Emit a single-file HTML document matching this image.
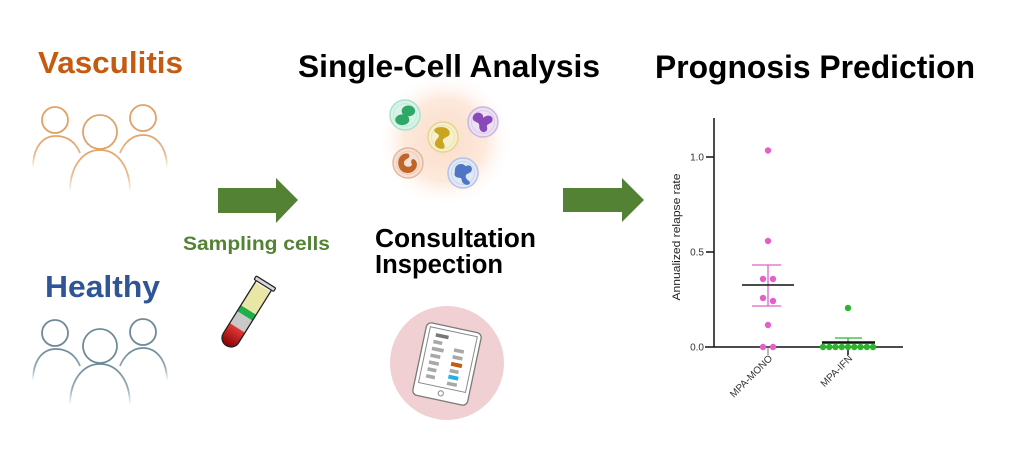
<!DOCTYPE html>
<html>
<head>
<meta charset="utf-8">
<style>
html,body{margin:0;padding:0;background:#fff;}
body{width:1011px;height:460px;overflow:hidden;}
svg{display:block;}
text{font-family:"Liberation Sans",Arial,sans-serif;}
</style>
</head>
<body>
<svg width="1011" height="460" viewBox="0 0 1011 460" xmlns="http://www.w3.org/2000/svg">
<defs>
  <linearGradient id="fadeO" x1="0" y1="0" x2="0" y2="1" gradientUnits="objectBoundingBox">
    <stop offset="0" stop-color="#e2a36a"/>
    <stop offset="0.6" stop-color="#e8b88c"/>
    <stop offset="1" stop-color="#ffffff"/>
  </linearGradient>
  <linearGradient id="fadeB" x1="0" y1="0" x2="0" y2="1" gradientUnits="objectBoundingBox">
    <stop offset="0" stop-color="#6f8b99"/>
    <stop offset="0.6" stop-color="#95aab5"/>
    <stop offset="1" stop-color="#ffffff"/>
  </linearGradient>
  <radialGradient id="glow" cx="445" cy="140" r="68" gradientUnits="userSpaceOnUse">
    <stop offset="0" stop-color="#fbdcc8"/>
    <stop offset="0.6" stop-color="#fde9dc"/>
    <stop offset="1" stop-color="#ffffff" stop-opacity="0"/>
  </radialGradient>
  <linearGradient id="red" x1="0" y1="0" x2="0" y2="1">
    <stop offset="0" stop-color="#e23a3a"/>
    <stop offset="1" stop-color="#8a0000"/>
  </linearGradient>
</defs>

<!-- Titles -->
<text x="38" y="73" font-size="31" font-weight="bold" fill="#c55a11" textLength="145" lengthAdjust="spacingAndGlyphs">Vasculitis</text>
<text x="45" y="297" font-size="31" font-weight="bold" fill="#2f5597" textLength="115" lengthAdjust="spacingAndGlyphs">Healthy</text>
<text x="298" y="77" font-size="31.5" font-weight="bold" fill="#000" textLength="302" lengthAdjust="spacingAndGlyphs">Single-Cell Analysis</text>
<text x="655" y="78" font-size="32" font-weight="bold" fill="#000" textLength="320" lengthAdjust="spacingAndGlyphs">Prognosis Prediction</text>
<text x="375" y="247" font-size="25.5" font-weight="bold" fill="#000" textLength="161" lengthAdjust="spacingAndGlyphs">Consultation</text>
<text x="375" y="273" font-size="25.5" font-weight="bold" fill="#000" textLength="128" lengthAdjust="spacingAndGlyphs">Inspection</text>
<text x="183" y="250" font-size="19.5" font-weight="bold" fill="#548235" textLength="147" lengthAdjust="spacingAndGlyphs">Sampling cells</text>

<!-- Vasculitis people -->
<g fill="none" stroke-width="1.8">
  <circle cx="55" cy="120" r="13" stroke="#e0a266"/>
  <circle cx="143" cy="118" r="13" stroke="#e0a266"/>
  <circle cx="100" cy="132" r="17" stroke="#e0a266"/>
  <path d="M33,168 C33,148 42,136 56,136 C68,136 76,143 80,153" stroke="url(#fadeO)"/>
  <path d="M120,153 C124,143 132,135 143,135 C157,135 167,148 167,168" stroke="url(#fadeO)"/>
  <path d="M70,192 C70,166 83,150 100,150 C117,150 130,166 130,192" stroke="url(#fadeO)"/>
</g>

<!-- Healthy people -->
<g fill="none" stroke-width="1.8">
  <circle cx="55" cy="333" r="13" stroke="#6f8b99"/>
  <circle cx="143" cy="332" r="13" stroke="#6f8b99"/>
  <circle cx="100" cy="346" r="17" stroke="#6f8b99"/>
  <path d="M33,381 C33,361 42,349 56,349 C68,349 76,356 80,366" stroke="url(#fadeB)"/>
  <path d="M120,366 C124,356 132,348 143,348 C157,348 167,361 167,381" stroke="url(#fadeB)"/>
  <path d="M70,405 C70,380 83,364 100,364 C117,364 130,380 130,405" stroke="url(#fadeB)"/>
</g>

<!-- Arrows -->
<polygon points="218,188 276,188 276,178 298,200 276,223 276,213 218,213" fill="#548235"/>
<polygon points="563,188 622,188 622,178 644,200 622,222 622,212 563,212" fill="#548235"/>

<!-- Test tube -->
<g transform="translate(266,282) rotate(32)">
  <path d="M-9,3 L-9,66 A9,9 0 0 0 9,66 L9,3 Z" fill="#f4f4f4"/>
  <rect x="-9" y="6" width="18" height="27" fill="#e9e6a6"/>
  <rect x="-9" y="33" width="18" height="7" fill="#1fae4a"/>
  <rect x="-9" y="40" width="18" height="14" fill="#c9c9c9"/>
  <path d="M-9,54 L-9,66 A9,9 0 0 0 9,66 L9,54 Z" fill="url(#red)"/>
  <path d="M-9,3 L-9,66 A9,9 0 0 0 9,66 L9,3" fill="none" stroke="#222" stroke-width="1.3"/>
  <rect x="-11.5" y="0" width="23" height="4" rx="1" fill="#d8d8d8" stroke="#222" stroke-width="1.2"/>
</g>

<!-- Cells glow -->
<circle cx="445" cy="140" r="68" fill="url(#glow)"/>
<!-- green cell -->
<g transform="translate(405,115)">
  <circle r="15" fill="#d9f3e8" stroke="#a7e3ca" stroke-width="1.5"/>
  <circle r="11.5" fill="none" stroke="#c2ecdb" stroke-width="1"/>
  <g transform="scale(1.35)">
    <ellipse cx="2.5" cy="-3" rx="5" ry="4" fill="#2ea867"/>
    <ellipse cx="-2" cy="3.5" rx="5.2" ry="4" fill="#2ea867"/>
  </g>
</g>
<!-- purple cell -->
<g transform="translate(483,122)">
  <circle r="15" fill="#ece0f3" stroke="#cdb4e3" stroke-width="1.5"/>
  <circle r="11.5" fill="none" stroke="#dccbec" stroke-width="1"/>
  <path transform="scale(1.35)" d="M-7,-5 C-4,-9 1,-6 0,-3 C3,-6 8,-5 7,-1 C6,2 2,1 3,4 C4,7 0,9 -2,6 C-4,3 -1,2 -5,0 C-8,-1 -8,-3 -7,-5 Z" fill="#8a49b8"/>
</g>
<!-- yellow cell -->
<g transform="translate(443,137)">
  <circle r="15" fill="#f7f0cf" stroke="#e6d58c" stroke-width="1.5"/>
  <circle r="11.5" fill="none" stroke="#efe2ab" stroke-width="1"/>
  <path transform="scale(1.35)" d="M-6,-6 C-2,-9 5,-7 5,-3 C5,0 1,0 0,2 C-1,4 2,5 1,8 C-1,10 -6,8 -6,5 C-6,2 -3,1 -3,-1 C-3,-3 -8,-3 -6,-6 Z" fill="#c9a521"/>
</g>
<!-- orange cell -->
<g transform="translate(408,163)">
  <circle r="15" fill="#f6e0d4" stroke="#e3b89f" stroke-width="1.5"/>
  <circle r="11.5" fill="none" stroke="#eeccb9" stroke-width="1"/>
  <path transform="scale(1.35)" d="M-1,-7 C-6,-7 -8,-2 -7,2 C-6,7 0,9 4,6 C8,3 7,-2 4,-3 C2,-3 2,0 3,1 C2,4 -3,3 -3,0 C-3,-3 1,-3 1,-5 C1,-7 0,-7 -1,-7 Z" fill="#c0652a"/>
</g>
<!-- blue cell -->
<g transform="translate(463,173)">
  <circle r="15" fill="#e1e8f6" stroke="#b3c3e6" stroke-width="1.5"/>
  <circle r="11.5" fill="none" stroke="#cad6ef" stroke-width="1"/>
  <path transform="scale(1.35)" d="M-6,-2 C-6,-7 0,-8 2,-5 C5,-7 8,-4 6,-1 C4,1 2,0 2,3 C3,6 6,6 5,8 C3,10 -1,8 -1,5 C-1,3 -3,4 -5,3 C-7,2 -6,0 -6,-2 Z" fill="#4f76c4"/>
</g>

<!-- Tablet -->
<circle cx="447" cy="363" r="57" fill="#f0d0d2"/>
<g transform="translate(447,364) rotate(12)">
  <rect x="-28" y="-37" width="56" height="74" rx="5" fill="#ffffff" stroke="#7a7a7a" stroke-width="1.3"/>
  <rect x="-24" y="-33" width="48" height="57" fill="#ffffff" stroke="#8a8a8a" stroke-width="1"/>
  <circle cx="0" cy="30" r="2.6" fill="none" stroke="#8a8a8a" stroke-width="1"/>
  <rect x="-17" y="-28" width="13" height="3.6" fill="#777"/>
  <g fill="#a8a8a8">
    <rect x="-18" y="-21" width="9" height="3.6"/>
    <rect x="-18" y="-14" width="12" height="3.6"/>
    <rect x="-18" y="-7" width="10" height="3.6"/>
    <rect x="-18" y="0" width="10" height="3.6"/>
    <rect x="-18" y="7" width="9" height="3.6"/>
    <rect x="-18" y="14" width="9" height="3.6"/>
    <rect x="4" y="-17" width="10" height="3.6"/>
    <rect x="4" y="-10" width="10" height="3.6"/>
    <rect x="4" y="4" width="9" height="3.6"/>
    <rect x="4" y="17" width="10" height="3.6"/>
  </g>
  <rect x="4" y="-3" width="11" height="4" fill="#c55a11"/>
  <rect x="4" y="10" width="10" height="4" fill="#1fb0ea"/>
</g>

<!-- Chart -->
<g stroke="#111" stroke-width="1.5" fill="none">
  <line x1="714" y1="118" x2="714" y2="347.5"/>
  <line x1="705" y1="347" x2="903" y2="347"/>
  <line x1="706" y1="157" x2="714" y2="157"/>
  <line x1="706" y1="252" x2="714" y2="252"/>
  <line x1="848" y1="347" x2="848" y2="355"/>
</g>
<line x1="768" y1="347" x2="768" y2="355" stroke="#888" stroke-width="1.2"/>
<g font-size="10" fill="#333" text-anchor="end">
  <text x="704" y="160.5">1.0</text>
  <text x="704" y="255.5">0.5</text>
  <text x="704" y="350.5">0.0</text>
</g>
<text transform="translate(680,237) rotate(-90)" font-size="11" fill="#222" text-anchor="middle" textLength="127" lengthAdjust="spacingAndGlyphs">Annualized relapse rate</text>
<text transform="translate(773,359) rotate(-45)" font-size="10" fill="#333" text-anchor="end">MPA-MONO</text>
<text transform="translate(853,359) rotate(-45)" font-size="10" fill="#333" text-anchor="end">MPA-IFN</text>

<!-- MONO group -->
<g stroke="#e261c8" stroke-width="1.3">
  <line x1="752" y1="265" x2="781" y2="265"/>
  <line x1="752" y1="306" x2="781" y2="306"/>
  <line x1="768" y1="265" x2="768" y2="306"/>
</g>
<g fill="#e261c8">
  <circle cx="768" cy="150.5" r="3.2"/>
  <circle cx="768" cy="241" r="3.2"/>
  <circle cx="763" cy="279" r="3.2"/>
  <circle cx="773" cy="279" r="3.2"/>
  <circle cx="763" cy="298" r="3.2"/>
  <circle cx="773" cy="301" r="3.2"/>
  <circle cx="768" cy="325" r="3.2"/>
  <circle cx="763" cy="347" r="3.2"/>
  <circle cx="773" cy="347" r="3.2"/>
</g>
<line x1="742" y1="285" x2="794" y2="285" stroke="#111" stroke-width="1.5"/>

<!-- IFN group -->
<g stroke="#2cb52c" stroke-width="1.3">
  <line x1="835" y1="338" x2="862" y2="338"/>
  <line x1="848" y1="338" x2="848" y2="343"/>
</g>
<line x1="822" y1="342.5" x2="875" y2="342.5" stroke="#111" stroke-width="2.4"/>
<g fill="#2cb52c">
  <circle cx="848" cy="308" r="3.2"/>
  <circle cx="823" cy="347" r="3.2"/>
  <circle cx="829.3" cy="347" r="3.2"/>
  <circle cx="835.5" cy="347" r="3.2"/>
  <circle cx="841.8" cy="347" r="3.2"/>
  <circle cx="848" cy="347" r="3.2"/>
  <circle cx="854.3" cy="347" r="3.2"/>
  <circle cx="860.5" cy="347" r="3.2"/>
  <circle cx="866.8" cy="347" r="3.2"/>
  <circle cx="873" cy="347" r="3.2"/>
</g>
</svg>
</body>
</html>
